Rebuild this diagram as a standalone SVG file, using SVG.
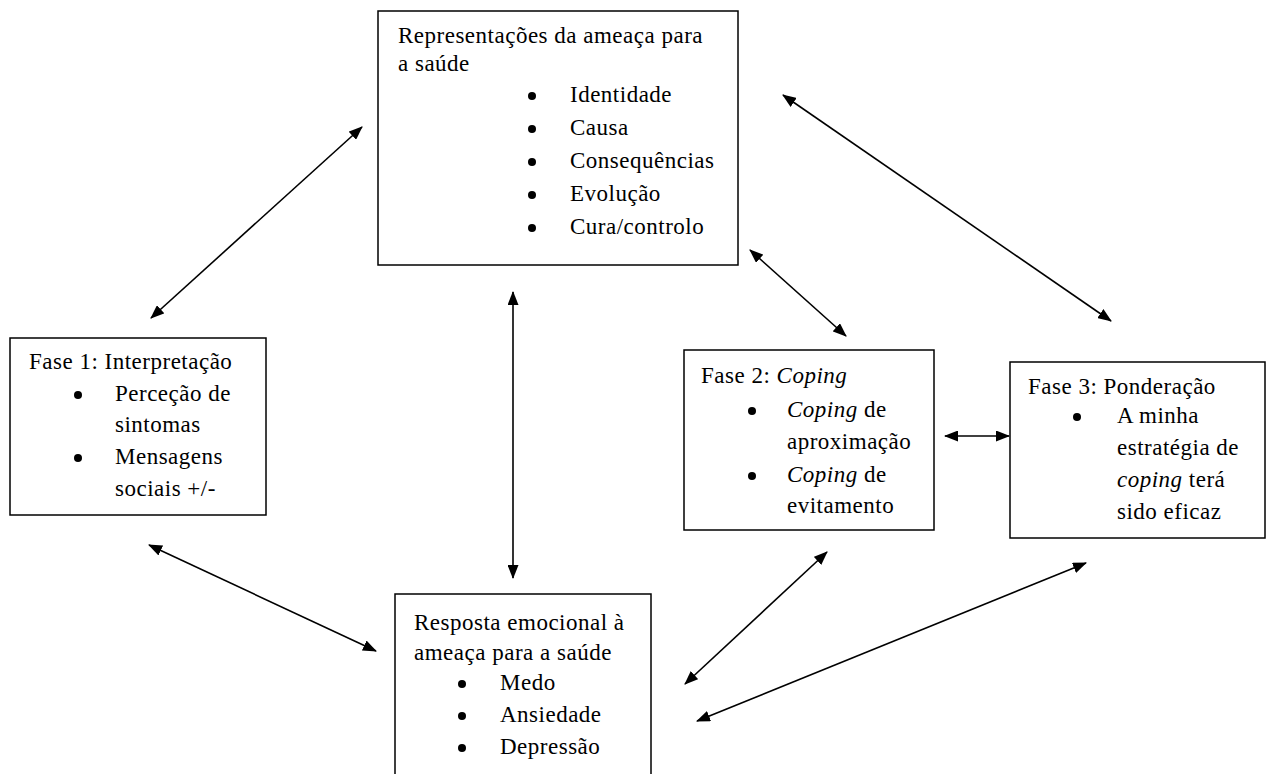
<svg xmlns="http://www.w3.org/2000/svg" width="1266" height="774" viewBox="0 0 1266 774">
<style>
.box{fill:#fff;stroke:#000;stroke-width:1.5}
text{font-family:"Liberation Serif","Times New Roman",serif;font-size:23px;letter-spacing:0.5px;fill:#000}
.it{font-style:italic}
.bul{fill:#000}
.con line{stroke:#000;stroke-width:1.6}
</style>
<defs>
<marker id="ah" viewBox="0 0 14 11" refX="13" refY="5.5" markerWidth="14" markerHeight="11" markerUnits="userSpaceOnUse" orient="auto-start-reverse">
<path d="M0,0 L14,5.5 L0,11 Z" fill="#000"/>
</marker>
</defs>
<rect width="1266" height="774" fill="#fff"/>
<g id="rep">
<rect class="box" x="378" y="11" width="360" height="254"/>
<text x="398" y="43">Representações da ameaça para</text>
<text x="398" y="71">a saúde</text>
<circle class="bul" cx="532" cy="96" r="4"/><text x="570" y="102">Identidade</text>
<circle class="bul" cx="532" cy="129" r="4"/><text x="570" y="135">Causa</text>
<circle class="bul" cx="532" cy="162" r="4"/><text x="570" y="168">Consequências</text>
<circle class="bul" cx="532" cy="195" r="4"/><text x="570" y="201">Evolução</text>
<circle class="bul" cx="532" cy="228" r="4"/><text x="570" y="234">Cura/controlo</text>
</g>
<g id="fase1">
<rect class="box" x="10" y="338" width="256" height="177"/>
<text x="29" y="369">Fase 1: Interpretação</text>
<circle class="bul" cx="78" cy="395" r="4"/><text x="115" y="401">Perceção de</text>
<text x="115" y="432">sintomas</text>
<circle class="bul" cx="78" cy="458" r="4"/><text x="115" y="464">Mensagens</text>
<text x="115" y="496">sociais +/-</text>
</g>
<g id="fase2">
<rect class="box" x="684" y="350" width="250" height="180"/>
<text x="701" y="383">Fase 2: <tspan class="it">Coping</tspan></text>
<circle class="bul" cx="752" cy="411" r="4"/><text x="787" y="417"><tspan class="it">Coping</tspan> de</text>
<text x="787" y="449">aproximação</text>
<circle class="bul" cx="752" cy="476" r="4"/><text x="787" y="482"><tspan class="it">Coping</tspan> de</text>
<text x="787" y="513">evitamento</text>
</g>
<g id="fase3">
<rect class="box" x="1010" y="362" width="255" height="176"/>
<text x="1028" y="394">Fase 3: Ponderação</text>
<circle class="bul" cx="1077" cy="417" r="4"/><text x="1117" y="423">A minha</text>
<text x="1117" y="455">estratégia de</text>
<text x="1117" y="487"><tspan class="it">coping</tspan> terá</text>
<text x="1117" y="519">sido eficaz</text>
</g>
<g id="emo">
<rect class="box" x="395" y="594" width="256" height="190"/>
<text x="414" y="630">Resposta emocional à</text>
<text x="414" y="660">ameaça para a saúde</text>
<circle class="bul" cx="462" cy="684" r="4"/><text x="500" y="690">Medo</text>
<circle class="bul" cx="462" cy="716" r="4"/><text x="500" y="722">Ansiedade</text>
<circle class="bul" cx="462" cy="748" r="4"/><text x="500" y="754">Depressão</text>
</g>
<g id="connectors" class="con">
<line x1="362" y1="127" x2="151" y2="318" marker-start="url(#ah)" marker-end="url(#ah)"/>
<line x1="513" y1="292" x2="513" y2="578" marker-start="url(#ah)" marker-end="url(#ah)"/>
<line x1="750" y1="250" x2="846" y2="336" marker-start="url(#ah)" marker-end="url(#ah)"/>
<line x1="783" y1="95" x2="1111" y2="321" marker-start="url(#ah)" marker-end="url(#ah)"/>
<line x1="945" y1="436" x2="1009" y2="436" marker-start="url(#ah)" marker-end="url(#ah)"/>
<line x1="149" y1="545" x2="376" y2="651" marker-start="url(#ah)" marker-end="url(#ah)"/>
<line x1="827" y1="552" x2="685" y2="684" marker-start="url(#ah)" marker-end="url(#ah)"/>
<line x1="1086" y1="563" x2="697" y2="721" marker-start="url(#ah)" marker-end="url(#ah)"/>
</g>
</svg>
